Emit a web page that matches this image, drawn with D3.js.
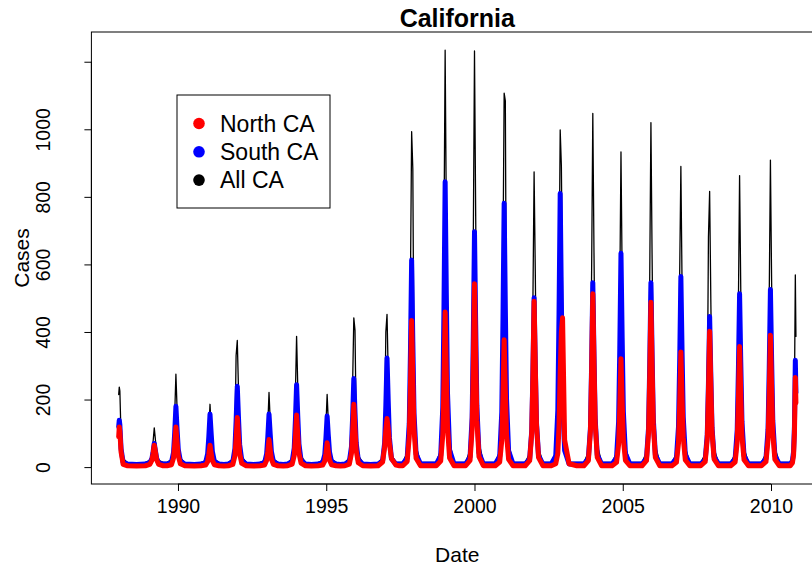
<!DOCTYPE html>
<html>
<head>
<meta charset="utf-8">
<script src="https://cdn.jsdelivr.net/npm/d3@7"></script>
<style>
  body { margin: 0; background: #fff; }
  svg { display: block; }
  text { font-family: "Liberation Sans", Arial, sans-serif; fill: #000; }
</style>
</head>
<body>
<svg width="812" height="571"></svg>
<script>
// vertices, one line per season (decimal years)
const dates = [
  1988.00, 1988.02, 1988.04, 1988.08, 1988.15, 1988.30, 1988.60,
  1988.90, 1989.05, 1989.12, 1989.16, 1989.20, 1989.24, 1989.28, 1989.35, 1989.50,
  1989.63, 1989.78, 1989.85, 1989.89, 1989.93, 1989.97, 1990.01, 1990.08, 1990.23, 1990.55,
  1990.78, 1990.93, 1991.00, 1991.04, 1991.08, 1991.12, 1991.16, 1991.23, 1991.38, 1991.55,
  1991.70, 1991.85, 1991.92, 1991.96, 1992.00, 1992.04, 1992.08, 1992.15, 1992.30, 1992.55,
  1992.77, 1992.92, 1992.99, 1993.03, 1993.07, 1993.11, 1993.15, 1993.22, 1993.37, 1993.55,
  1993.70, 1993.85, 1993.92, 1993.96, 1994.00, 1994.04, 1994.08, 1994.15, 1994.30, 1994.50,
  1994.73, 1994.88, 1994.95, 1994.99, 1995.03, 1995.07, 1995.11, 1995.18, 1995.33, 1995.48,
  1995.63, 1995.78, 1995.85, 1995.89, 1995.93, 1995.97, 1996.01, 1996.08, 1996.23, 1996.50,
  1996.75, 1996.90, 1996.97, 1997.01, 1997.05, 1997.09, 1997.13, 1997.20, 1997.35, 1997.47,
  1997.58, 1997.73, 1997.80, 1997.84, 1997.88, 1997.92, 1997.96, 1998.03, 1998.18, 1998.45,
  1998.71, 1998.86, 1998.93, 1998.97, 1999.01, 1999.05, 1999.09, 1999.16, 1999.31, 1999.50,
  1999.70, 1999.85, 1999.92, 1999.96, 2000.00, 2000.04, 2000.08, 2000.15, 2000.30, 2000.50,
  2000.70, 2000.85, 2000.92, 2000.96, 2001.00, 2001.04, 2001.08, 2001.15, 2001.30, 2001.50,
  2001.71, 2001.86, 2001.93, 2001.97, 2002.01, 2002.05, 2002.09, 2002.16, 2002.31, 2002.45,
  2002.59, 2002.74, 2002.81, 2002.85, 2002.89, 2002.93, 2002.97, 2003.04, 2003.19, 2003.45,
  2003.69, 2003.84, 2003.91, 2003.95, 2003.99, 2004.03, 2004.07, 2004.14, 2004.29, 2004.45,
  2004.64, 2004.79, 2004.86, 2004.90, 2004.94, 2004.98, 2005.02, 2005.09, 2005.24, 2005.45,
  2005.65, 2005.80, 2005.87, 2005.91, 2005.95, 2005.99, 2006.03, 2006.10, 2006.25, 2006.45,
  2006.66, 2006.81, 2006.88, 2006.92, 2006.96, 2007.00, 2007.04, 2007.11, 2007.26, 2007.45,
  2007.63, 2007.78, 2007.85, 2007.89, 2007.93, 2007.97, 2008.01, 2008.08, 2008.23, 2008.45,
  2008.64, 2008.79, 2008.86, 2008.90, 2008.94, 2008.98, 2009.02, 2009.09, 2009.24, 2009.45,
  2009.68, 2009.83, 2009.90, 2009.94, 2009.98, 2010.02, 2010.06, 2010.13, 2010.28, 2010.45,
  2010.65, 2010.72, 2010.76, 2010.79, 2010.82, 2010.84
]

const allCA = [
  215, 237, 225, 90, 25, 14, 12,
  14, 20, 40, 75, 116, 80, 42, 20, 14,
  14, 22, 66, 158, 275, 171, 79, 27, 14, 12,
  14, 19, 48, 109, 186, 117, 57, 23, 14, 12,
  14, 25, 86, 330, 375, 231, 104, 32, 14, 12,
  14, 20, 55, 128, 221, 138, 66, 24, 14, 12,
  14, 25, 89, 219, 387, 238, 107, 33, 14, 12,
  14, 20, 54, 125, 215, 135, 64, 24, 14, 12,
  14, 27, 100, 249, 442, 405, 121, 35, 14, 12,
  14, 27, 102, 400, 452, 277, 124, 36, 14, 14,
  14, 43, 210, 552, 993, 882, 259, 63, 14, 14,
  14, 51, 258, 685, 1234, 746, 319, 75, 14, 14,
  14, 51, 258, 684, 1232, 745, 319, 75, 14, 14,
  14, 47, 233, 615, 1107, 1084, 287, 69, 14, 14,
  14, 40, 186, 487, 874, 580, 229, 57, 14, 14,
  14, 44, 211, 555, 998, 892, 500, 63, 14, 14,
  14, 45, 221, 582, 1047, 634, 272, 66, 14, 14,
  14, 42, 198, 519, 933, 565, 244, 60, 14, 14,
  14, 44, 215, 567, 1020, 618, 266, 64, 14, 14,
  14, 40, 189, 574, 890, 540, 233, 58, 14, 14,
  14, 38, 174, 682, 816, 495, 215, 54, 14, 14,
  14, 39, 184, 481, 863, 523, 226, 56, 14, 14,
  14, 41, 193, 506, 909, 551, 238, 59, 14, 14,
  14, 30, 80, 220, 569, 387
]

const southCA = [
  120, 139, 125, 55, 14, 9, 8,
  9, 13, 25, 45, 70, 48, 26, 12, 9,
  9, 14, 43, 103, 180, 112, 52, 18, 9, 8,
  9, 13, 39, 90, 157, 98, 46, 16, 9, 8,
  9, 16, 55, 136, 239, 147, 67, 21, 9, 8,
  9, 13, 39, 90, 157, 98, 46, 16, 9, 8,
  9, 16, 56, 138, 244, 150, 68, 21, 9, 8,
  9, 13, 37, 87, 151, 94, 45, 16, 9, 8,
  9, 17, 60, 148, 262, 161, 72, 22, 9, 8,
  9, 18, 72, 182, 323, 197, 88, 25, 9, 9,
  9, 27, 130, 341, 613, 371, 160, 39, 9, 9,
  9, 34, 176, 469, 845, 511, 218, 51, 9, 9,
  9, 30, 147, 387, 697, 422, 181, 43, 9, 9,
  9, 32, 163, 434, 781, 472, 202, 48, 9, 9,
  9, 24, 107, 280, 501, 304, 132, 34, 9, 9,
  9, 33, 169, 450, 810, 490, 209, 49, 9, 9,
  9, 25, 116, 304, 546, 331, 143, 36, 9, 9,
  9, 28, 134, 352, 633, 383, 165, 40, 9, 9,
  9, 25, 116, 304, 546, 331, 143, 36, 9, 9,
  9, 26, 120, 314, 564, 342, 148, 37, 9, 9,
  9, 22, 96, 249, 446, 271, 118, 31, 9, 9,
  9, 24, 110, 286, 513, 311, 135, 34, 9, 9,
  9, 25, 112, 293, 526, 319, 138, 35, 9, 9,
  9, 18, 45, 120, 316, 220
]

const northCA = [
  90, 119, 105, 45, 8, 4, 3,
  4, 8, 20, 40, 65, 44, 22, 8, 4,
  4, 7, 27, 67, 119, 73, 33, 10, 4, 3,
  4, 6, 16, 38, 65, 41, 19, 7, 4, 3,
  4, 8, 33, 83, 147, 90, 40, 11, 4, 3,
  4, 6, 20, 47, 82, 51, 24, 8, 4, 3,
  4, 9, 34, 87, 154, 94, 42, 12, 4, 3,
  4, 6, 18, 41, 72, 45, 21, 7, 4, 3,
  4, 9, 40, 104, 186, 113, 50, 13, 4, 3,
  4, 15, 60, 110, 144, 115, 70, 25, 6, 4,
  4, 17, 90, 241, 434, 262, 112, 26, 4, 4,
  4, 18, 95, 254, 459, 277, 118, 27, 4, 4,
  4, 20, 112, 300, 543, 327, 139, 31, 4, 4,
  4, 15, 79, 209, 377, 228, 97, 23, 4, 4,
  4, 19, 101, 272, 491, 296, 126, 28, 4, 4,
  4, 10, 40, 120, 280, 400, 442, 80, 10, 4,
  4, 19, 106, 284, 513, 309, 131, 29, 4, 4,
  4, 14, 67, 178, 321, 194, 83, 20, 4, 4,
  4, 19, 101, 270, 488, 294, 125, 28, 4, 4,
  4, 14, 71, 189, 341, 206, 88, 21, 4, 4,
  4, 16, 84, 223, 402, 243, 104, 24, 4, 4,
  4, 15, 75, 198, 357, 216, 92, 22, 4, 4,
  4, 16, 81, 216, 390, 236, 101, 23, 4, 4,
  4, 12, 35, 100, 265, 190
]

const xTicks = [1990, 1995, 2000, 2005, 2010]
const yTicks = [0, 200, 400, 600, 800, 1000, 1200]
const yLabels = ["0", "200", "400", "600", "800", "1000", ""]   // R drops the top label
const legendLabels = ["North CA", "South CA", "All CA"]
const legendColors = ["red", "blue", "black"]

const svg = d3.select("svg")
const fs = 19.5

// plot region (R style, 4% padding around the data range)
const x = d3.scaleLinear().domain([1987.08, 2011.76]).range([91.4, 823.2])
const y = d3.scaleLinear().domain([-50, 1288]).range([484, 32])

svg.append("defs").append("clipPath").attr("id", "plotclip")
    .append("rect")
    .attr("x", x.range()[0]).attr("y", y.range()[1])
    .attr("width", x.range()[1] - x.range()[0])
    .attr("height", y.range()[0] - y.range()[1])

const line = d3.line()
    .x(d => x(d[0]))
    .y(d => y(d[1]))

const series = [
    { values: allCA, color: "black", width: 1.3 },
    { values: southCA, color: "blue", width: 5 },
    { values: northCA, color: "red", width: 5 }
]

svg.append("g")
    .attr("clip-path", "url(#plotclip)")
    .selectAll("path")
    .data(series)
    .enter()
    .append("path")
    .attr("d", s => line(d3.zip(dates, s.values)))
    .attr("fill", "none")
    .attr("stroke", s => s.color)
    .attr("stroke-width", s => s.width)
    .attr("stroke-linejoin", "round")
    .attr("stroke-linecap", "round")

// box
svg.append("rect")
    .attr("x", x.range()[0]).attr("y", y.range()[1])
    .attr("width", x.range()[1] - x.range()[0])
    .attr("height", y.range()[0] - y.range()[1])
    .attr("fill", "none")
    .attr("stroke", "black")
    .attr("stroke-width", 1)

// x axis
const xAxis = svg.append("g")
    .attr("transform", `translate(0,${y.range()[0]})`)
    .call(d3.axisBottom(x).tickValues(xTicks).tickSize(7).tickPadding(8).tickFormat(d3.format("d")))
xAxis.select(".domain").attr("d", `M${x(xTicks[0])},0H${x(xTicks[xTicks.length - 1])}`)
xAxis.selectAll("text").style("font-size", fs + "px").style("font-family", "Liberation Sans, Arial, sans-serif")

// y axis
const yAxis = svg.append("g")
    .attr("transform", `translate(${x.range()[0]},0)`)
    .call(d3.axisLeft(y).tickValues(yTicks).tickSize(7).tickFormat(""))
yAxis.select(".domain").attr("d", `M0,${y(yTicks[0])}V${y(yTicks[yTicks.length - 1])}`)
yAxis.selectAll(".tick").append("text")
    .attr("transform", "translate(-41,0) rotate(-90)")
    .attr("text-anchor", "middle")
    .attr("fill", "black")
    .style("font-size", fs + "px")
    .style("font-family", "Liberation Sans, Arial, sans-serif")
    .text((d, i) => yLabels[i])

const midX = (x.range()[0] + x.range()[1]) / 2
const midY = (y.range()[0] + y.range()[1]) / 2

svg.append("text")
    .attr("x", midX).attr("y", 27)
    .attr("text-anchor", "middle")
    .style("font-size", "25px")
    .style("font-weight", "bold")
    .text("California")

svg.append("text")
    .attr("x", midX).attr("y", 562)
    .attr("text-anchor", "middle")
    .style("font-size", "21px")
    .text("Date")

svg.append("text")
    .attr("transform", `translate(29,${midY}) rotate(-90)`)
    .attr("text-anchor", "middle")
    .style("font-size", "21px")
    .text("Cases")

// legend
const lg = svg.append("g")
lg.append("rect")
    .attr("x", 177).attr("y", 95)
    .attr("width", 153).attr("height", 113)
    .attr("fill", "white")
    .attr("stroke", "black")
    .attr("stroke-width", 1)

const rows = lg.selectAll("g.row")
    .data(legendLabels)
    .enter()
    .append("g")
    .attr("class", "row")
    .attr("transform", (d, i) => `translate(0,${123.5 + i * 28.3})`)

rows.append("circle")
    .attr("cx", 199).attr("cy", 0).attr("r", 5.8)
    .attr("fill", (d, i) => legendColors[i])

rows.append("text")
    .attr("x", 220).attr("y", 8)
    .style("font-size", "23px")
    .text(d => d)
</script>
